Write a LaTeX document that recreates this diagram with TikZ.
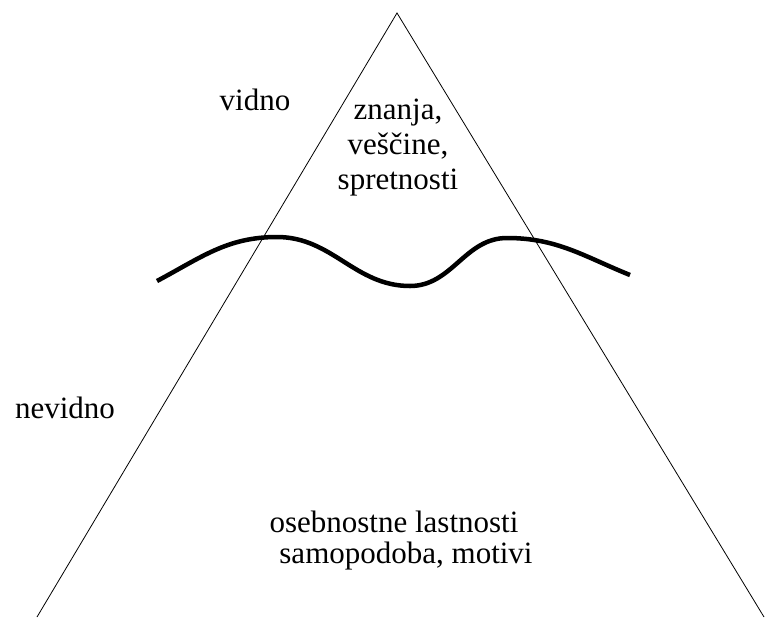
\documentclass[tikz,border=0pt]{standalone}
\usepackage{fontspec}
\setmainfont{Liberation Serif}
\begin{document}
\begin{tikzpicture}[x=1pt,y=-1pt,
  lbl/.style={inner sep=0pt,font=\fontsize{31}{35}\selectfont},
  edge/.style={line width=0.8pt},
  wave/.style={line width=4.5pt}]
\useasboundingbox (0,0) rectangle (765,619);
\coordinate (apex) at (397,13);
\coordinate (bl) at (37,617);
\coordinate (br) at (764,617);
\draw[edge] (bl) -- (apex) -- (br);
\coordinate (w1) at (157,281);
\coordinate (w2) at (277,237);
\coordinate (w3) at (410,286);
\coordinate (w4) at (507,238);
\coordinate (w5) at (630,275);
\draw[wave] (w1) to[out=28,in=180] (w2) to[out=0,in=180] (w3) to[out=0,in=180] (w4) to[out=0,in=158] (w5);
\node[lbl] (vidno) at (255,100) {vidno};
\node[lbl,align=center] (znanja) at (398,148) {znanja,\\ veščine,\\ spretnosti};
\node[lbl] (nevidno) at (65,408) {nevidno};
\node[lbl] (oseb) at (394,522) {osebnostne lastnosti};
\node[lbl] (samo) at (406,556) {samopodoba, motivi};
\end{tikzpicture}
\end{document}
